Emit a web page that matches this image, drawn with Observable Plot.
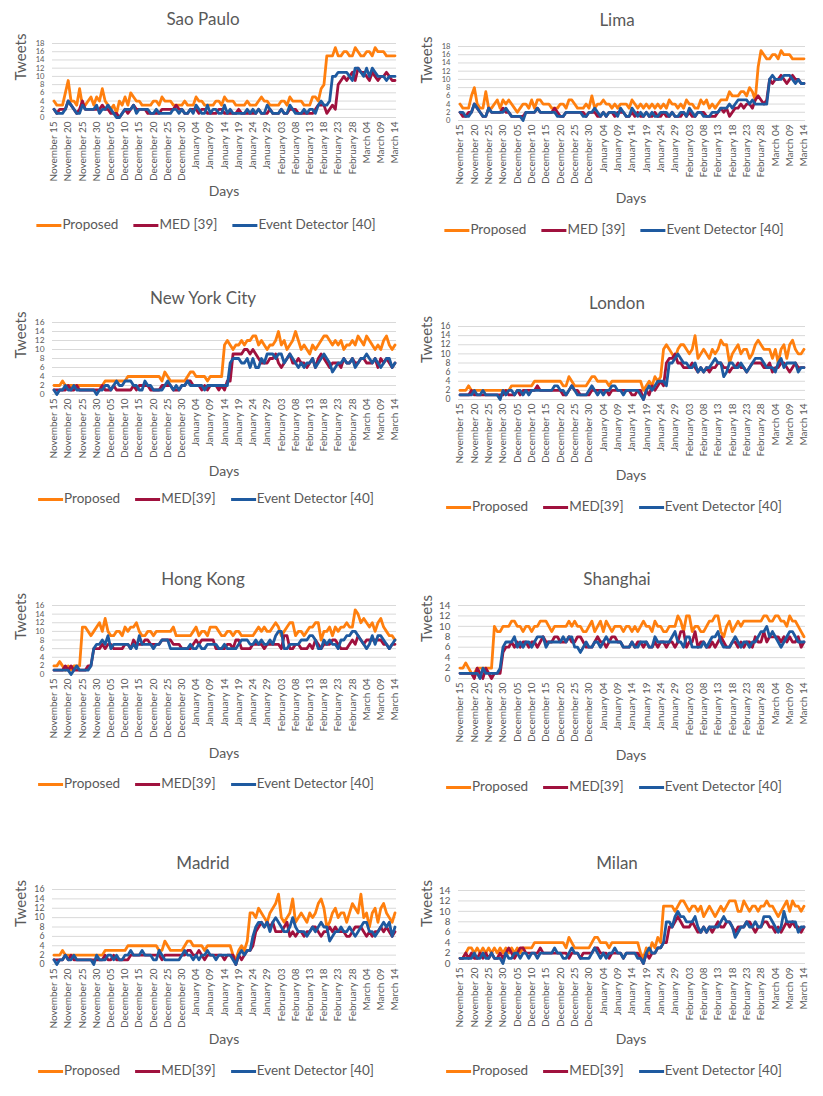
<!DOCTYPE html>
<html><head><meta charset="utf-8">
<script src="https://cdn.jsdelivr.net/npm/d3@7"></script>
<script src="https://cdn.jsdelivr.net/npm/@observablehq/plot@0.6"></script>
<style>
body{margin:0;background:#fff;font-family:Lato,"Open Sans",sans-serif;}
#root{position:relative;width:823px;height:1096px;overflow:hidden;}
.t{position:absolute;transform:translate(-50%,-50%);color:#595959;white-space:nowrap;}
.title{font-size:17px;}
.days{font-size:14px;}
.legend{position:absolute;transform:translate(-50%,-50%);display:flex;gap:15px;font-size:13.5px;color:#595959;white-space:nowrap;align-items:center;}
.sw{display:inline-block;width:25px;height:3px;vertical-align:middle;margin-right:1px;}
svg{position:absolute;}
</style></head>
<body><div id="root"></div>
<script>
const cities = ["Sao Paulo","Lima","New York City","London","Hong Kong","Shanghai","Madrid","Milan"];
const seriesNames = ["Proposed","MED [39]","Event Detector [40]"];
const medLabels = ["MED [39]","MED [39]","MED[39]","MED[39]","MED[39]","MED[39]","MED[39]","MED[39]"];
const yMax = [18,18,16,16,16,14,16,14];
const tickLabels = ["November 15","November 20","November 25","November 30","December 05","December 10","December 15","December 20","December 25","December 30","January 04","January 09","January 14","January 19","January 24","January 29","February 03","February 08","February 13","February 18","February 23","February 28","March 04","March 09","March 14"];

const saoPauloProposed = [4,3,3,3,6,9,4,4,3,7, 3,3,4,5,3,5,4,7,4,3, 2,3,1,4,3,5,3,6,5,4, 4,3,3,3,3,4,4,3,5,4, 4,4,3,3,3,3,4,3,3,3, 5,4,4,3,3,3,3,4,4,3, 5,4,4,4,3,3,3,3,4,3, 3,3,4,5,4,4,3,3,3,3, 4,4,3,5,4,4,4,4,3,3, 3,5,5,4,7,8,15,15,15,17, 15,15,16,16,15,15,17,16,15,15, 16,16,15,17,16,16,16,15,15,15,15];
const saoPauloMED = [2,1,2,2,2,4,3,2,1,2, 4,2,2,2,2,2,2,3,2,2, 1,1,1,0,1,2,1,2,3,2, 2,2,2,1,1,1,1,1,2,2, 2,2,2,3,2,2,1,1,2,2, 2,1,2,2,1,1,1,1,2,2, 1,1,1,1,1,2,1,1,1,1, 1,1,2,1,1,1,2,1,1,1, 2,1,1,2,2,2,1,1,1,1, 1,1,2,3,3,3,1,2,3,2, 8,9,10,9,10,11,9,12,11,11, 10,9,11,10,9,10,10,11,10,9,9];
const saoPauloEvent = [2,1,1,1,2,4,3,2,1,1, 3,2,2,2,2,3,1,2,2,3, 2,1,0,0,1,2,2,2,3,1, 2,2,2,2,1,1,2,1,1,1, 1,1,2,2,1,2,1,1,2,1, 3,2,1,1,3,1,2,2,1,1, 3,1,2,1,1,1,1,1,2,1, 2,1,2,1,1,3,2,1,1,1, 2,1,1,3,2,1,1,1,2,1, 2,2,1,3,4,3,3,4,10,10, 11,11,11,11,10,9,12,12,11,10, 12,10,12,11,10,10,10,9,10,10,10];

const limaProposed = [4,3,3,3,6,8,4,3,3,7, 3,3,4,5,3,5,4,5,4,3, 2,3,4,4,3,5,3,5,5,4, 4,4,3,3,3,4,4,3,5,5, 4,3,3,3,4,3,6,3,4,4, 5,4,4,3,4,3,4,4,4,3, 5,4,3,4,3,4,3,4,3,4, 3,4,3,5,4,4,3,4,3,5, 4,4,3,3,5,4,5,3,4,3, 4,5,5,5,7,6,6,6,7,7, 6,8,7,5,13,17,16,15,15,16, 16,15,17,16,16,16,15,15,15,15,15];
const limaMED = [2,1,1,2,2,4,3,2,1,1, 3,2,2,2,2,3,2,2,1,1, 1,1,1,2,2,2,2,3,2,2, 2,2,2,3,2,1,1,2,2,2, 2,2,2,2,1,2,2,2,1,1, 2,1,2,2,1,2,2,2,1,1, 2,1,2,1,1,2,1,1,2,1, 1,2,1,1,2,1,1,1,2,1, 2,1,1,2,2,2,1,1,1,1, 2,3,2,3,1,2,3,3,4,3, 4,4,3,5,6,5,4,5,10,9, 10,10,11,10,9,10,11,10,10,9,9];
const limaEvent = [2,2,1,1,2,4,3,2,1,1, 3,2,2,2,2,2,3,2,1,1, 1,1,0,2,2,2,2,3,2,2, 2,2,2,2,1,1,1,2,2,2, 2,2,2,1,1,2,2,3,2,1, 2,1,2,2,2,1,3,2,1,1, 3,2,1,2,1,2,1,2,1,1, 2,2,2,1,2,1,1,2,2,1, 3,2,1,2,2,1,1,1,2,2, 2,3,3,3,4,3,4,5,5,5, 5,4,5,4,4,4,4,4,10,11, 10,10,10,11,11,11,10,9,10,9,9];

const newYorkProposed = [2,2,2,3,2,2,2,2,2,2, 2,2,2,2,2,2,2,2,3,3, 3,3,3,3,3,3,4,4,4,4, 4,4,4,4,4,4,4,4,3,5, 4,3,3,3,3,3,3,4,5,5, 4,4,4,4,3,4,4,4,4,4, 11,12,11,10,11,11,12,11,12,12, 13,13,11,12,11,10,11,11,12,14, 11,12,10,11,12,14,12,10,11,10, 9,11,10,11,12,13,13,12,11,12, 11,12,10,11,11,12,11,13,12,11, 13,12,11,10,11,10,12,13,11,10,11];
const newYorkMED = [1,1,1,1,1,2,1,1,2,1, 1,1,1,1,1,1,1,2,1,1, 1,2,1,1,1,1,1,1,2,1, 2,2,2,2,1,1,1,1,2,2, 2,2,1,1,1,2,2,3,3,2, 2,2,1,2,1,2,2,2,1,2, 1,3,3,9,9,9,9,10,10,9, 10,9,8,7,7,7,8,8,9,7, 6,7,8,9,7,7,8,7,7,6, 7,8,6,8,9,8,7,6,7,7, 7,6,8,7,7,8,7,7,8,8, 7,7,7,8,6,8,7,8,7,6,7];
const newYorkEvent = [1,0,1,1,2,1,1,2,1,1, 1,1,1,1,1,0,1,1,2,2, 1,2,3,2,2,3,3,3,2,2, 1,1,3,2,2,1,1,1,1,2, 3,2,1,2,1,2,2,3,2,2, 2,2,2,1,2,2,2,2,2,2, 2,2,7,8,8,8,7,7,8,6, 8,6,6,8,7,9,9,9,8,9, 9,7,8,9,8,7,6,7,6,7, 7,8,6,7,8,9,8,7,5,6, 7,7,8,7,7,8,6,7,8,8, 9,8,7,8,7,6,7,8,8,6,7];

const londonProposed = [2,2,2,3,2,2,2,2,2,2, 2,2,2,2,2,2,2,2,3,3, 3,3,3,3,3,3,4,4,4,4, 4,4,4,4,4,4,3,3,5,4, 3,3,3,3,3,4,5,5,4,4, 4,4,3,4,4,4,4,4,4,4, 4,4,4,4,2,3,4,3,5,4, 5,11,12,11,10,9,11,12,12,11, 10,11,14,9,10,11,10,9,11,10, 11,13,12,12,8,10,11,12,10,11, 11,9,10,12,13,12,11,11,11,9, 11,8,11,12,9,12,13,11,10,10,11];
const londonMED = [1,1,1,1,2,1,1,1,1,1, 1,1,1,1,1,1,2,1,1,1, 2,1,2,2,2,2,2,3,2,2, 2,2,2,2,2,2,1,1,2,3, 2,2,1,1,1,1,2,2,2,2, 2,2,1,2,2,2,2,2,2,2, 1,1,2,2,0,2,1,3,2,3, 4,3,8,9,9,10,8,8,7,7, 7,8,7,6,7,6,7,6,7,7, 8,8,7,7,6,7,7,8,7,7, 6,7,8,8,8,8,7,7,8,6, 7,7,8,8,7,6,7,8,7,7,7];
const londonEvent = [1,1,1,1,1,2,1,1,2,1, 1,1,1,1,0,2,1,2,2,1, 2,2,1,2,1,2,2,2,2,2, 2,2,2,3,3,2,2,1,2,3, 2,1,1,1,1,2,3,2,1,2, 1,2,2,3,3,2,2,1,2,2, 2,2,2,1,0,2,3,2,3,4, 4,4,3,8,8,9,10,9,8,8, 7,7,8,6,7,6,7,7,8,9, 8,8,5,6,8,8,7,7,8,7, 6,7,8,9,9,9,8,7,7,7, 6,8,9,7,8,8,8,8,6,7,7];

const hongKongProposed = [2,2,3,2,1,2,1,2,2,2, 11,11,10,9,10,11,12,10,13,10, 9,9,10,10,9,11,10,11,11,12, 10,9,9,10,10,9,10,10,10,10, 10,10,11,9,9,9,9,9,9,10, 11,9,10,10,9,11,11,11,10,9, 9,10,10,9,10,10,9,9,9,9, 9,10,11,10,11,10,10,11,12,11, 9,10,11,12,12,9,10,10,9,10, 11,11,12,12,8,10,10,11,9,11, 10,11,11,12,11,11,15,14,12,13, 12,11,12,10,12,13,11,10,9,9,8];
const hongKongMED = [1,1,1,1,2,1,2,1,1,1, 1,1,2,2,6,6,6,7,6,7, 7,6,6,6,6,7,7,6,8,7, 7,7,8,8,7,7,7,7,8,8, 8,8,7,7,7,6,6,6,6,7, 8,7,8,8,8,8,8,6,6,6, 6,7,7,6,8,8,6,6,6,6, 7,7,7,7,6,7,7,7,7,7, 6,9,9,6,6,7,7,6,6,6, 7,6,8,7,6,7,7,7,8,8, 7,6,6,6,7,8,7,9,8,7, 8,8,8,8,8,8,7,7,6,7,7];
const hongKongEvent = [1,1,1,1,1,1,0,1,2,1, 1,1,1,2,6,7,7,8,7,9, 6,7,7,7,7,7,7,6,7,6, 9,7,7,7,7,6,7,7,8,8, 8,6,6,6,6,6,6,6,7,6, 6,7,6,6,7,7,7,7,6,6, 7,6,6,6,6,7,8,8,8,7, 7,8,7,8,7,7,8,7,9,10, 10,6,6,7,7,7,7,8,8,8, 9,9,8,6,6,8,7,8,7,7, 6,8,8,9,9,10,10,9,8,7, 6,7,9,7,9,9,8,7,6,7,8];

const shanghaiProposed = [2,2,3,2,1,1,2,2,2,2, 2,2,10,9,9,10,10,10,11,11, 10,10,9,10,10,9,10,10,11,11, 11,10,9,10,10,10,10,10,11,10, 11,10,10,9,9,10,11,9,10,11, 9,11,10,9,10,10,10,9,10,10, 9,10,9,10,11,10,10,9,11,10, 10,9,9,10,10,10,12,11,9,12, 12,9,10,10,9,9,10,11,11,12, 12,9,8,10,11,9,10,11,10,11, 11,11,11,11,11,11,12,12,11,11, 12,12,11,11,10,12,11,11,10,9,8];
const shanghaiMED = [1,1,1,1,1,0,2,1,0,2, 1,0,1,1,1,5,6,6,7,6, 7,6,7,7,6,7,7,6,7,8, 7,7,7,8,8,7,7,7,8,7, 7,8,8,7,6,6,6,7,8,7, 7,6,7,8,8,7,7,6,6,6, 7,6,7,7,6,7,6,6,7,6, 7,7,6,7,7,6,7,9,9,6, 7,7,9,6,7,7,6,6,7,6, 7,8,7,6,6,7,7,6,7,6, 7,7,6,8,7,7,9,7,8,8, 8,8,7,8,7,8,7,7,8,6,7];
const shanghaiEvent = [1,1,1,1,1,1,1,0,2,1, 1,1,1,1,2,6,7,7,7,8, 6,7,6,7,7,6,7,8,8,8, 6,7,7,7,7,7,8,7,8,8, 6,6,5,6,7,6,6,7,7,6, 7,8,7,7,7,7,7,6,6,6, 7,6,6,7,7,7,6,6,8,7, 7,7,7,7,8,9,7,7,6,8, 8,6,6,6,6,7,6,7,8,8, 9,7,6,6,6,7,8,7,6,7, 7,6,7,7,8,9,9,10,8,9, 8,7,6,7,8,9,9,8,7,7,7];

const madridProposed = [2,2,2,3,2,2,2,2,2,2, 2,2,2,2,2,2,2,2,3,3, 3,3,3,3,3,3,4,4,4,4, 4,4,4,4,4,4,4,3,3,5, 4,3,3,3,3,3,4,5,5,4, 4,4,4,3,4,4,4,4,4,4, 4,4,4,2,1,3,4,3,5,11, 11,10,12,11,10,9,11,12,13,15, 10,9,10,11,14,9,10,11,10,9, 11,10,11,13,14,12,8,9,11,12, 10,11,11,9,11,13,12,11,15,10, 11,8,11,12,9,12,13,11,10,9,11];
const madridMED = [1,1,1,1,2,1,2,1,1,1, 1,1,1,1,1,1,1,1,2,1, 1,2,1,1,1,1,1,2,2,2, 2,2,2,2,2,2,2,2,1,2, 2,2,2,2,2,2,2,3,3,2, 2,3,2,1,2,2,2,2,2,2, 1,2,2,2,0,2,1,2,3,3, 4,7,8,9,8,9,8,9,7,7, 7,8,9,6,7,6,7,7,6,7, 7,8,8,7,6,7,7,8,7,8, 7,7,7,6,6,7,8,8,8,7, 6,7,6,7,7,8,7,8,7,6,7];
const madridEvent = [1,0,1,1,2,1,1,2,1,1, 1,1,1,1,0,2,1,1,1,2, 2,1,2,1,1,2,2,3,2,2, 2,3,2,2,2,1,1,3,2,1, 1,1,1,1,1,2,3,2,2,1, 2,1,2,2,3,2,2,1,2,2, 2,2,2,1,0,2,3,2,3,3, 6,8,9,9,8,9,7,9,10,9, 8,7,7,8,10,8,7,7,7,6, 7,8,7,8,9,8,8,5,6,7, 7,8,7,7,8,7,6,7,8,9, 9,7,7,6,7,8,9,8,9,6,8];

const milanProposed = [1,1,2,3,3,2,3,2,3,2, 3,2,3,2,3,2,3,2,3,2, 3,2,3,3,3,3,4,4,4,4, 4,4,4,4,4,4,4,3,5,4, 3,3,3,3,3,3,4,5,5,4, 4,4,3,4,4,4,4,4,4,4, 4,4,4,2,1,3,2,4,3,5, 4,11,11,11,11,10,11,12,12,11, 10,11,11,10,11,9,10,11,10,9, 10,11,10,11,12,12,12,10,10,12, 11,10,11,11,10,11,11,12,11,11, 10,9,10,11,12,10,12,11,11,10,11];
const milanMED = [1,1,2,1,2,1,1,2,1,2, 1,2,1,1,2,1,2,3,2,1, 2,3,3,2,2,2,2,2,3,2, 2,2,2,2,2,2,2,2,1,2, 2,2,1,2,2,2,2,3,3,2, 2,2,1,2,2,2,2,1,2,2, 2,2,2,1,0,2,1,2,2,3, 3,4,4,7,7,8,9,8,7,7, 7,8,7,6,6,7,6,7,6,7, 8,7,7,8,8,7,6,7,7,7, 8,8,7,6,7,7,8,8,7,7, 6,7,6,7,8,7,8,7,7,6,7];
const milanEvent = [1,1,1,1,1,2,1,1,2,1, 1,2,1,1,1,0,2,1,1,2, 2,1,2,2,1,2,2,1,2,2, 2,2,2,3,2,2,1,1,2,3, 2,2,1,1,1,1,2,3,2,1, 2,1,2,2,3,2,2,1,2,2, 2,2,1,1,0,2,3,2,2,3, 3,4,8,8,7,9,10,9,9,8, 8,8,9,7,6,7,6,7,7,7, 7,8,9,8,8,7,5,6,7,7, 8,7,7,8,7,7,9,9,9,8, 7,6,7,10,8,8,8,8,6,7,7];

// ---- presentation ----
const colors = ["#FF7F0E", "#A0113E", "#1E5AA0"];
const cityData = [
  [saoPauloProposed, saoPauloMED, saoPauloEvent],
  [limaProposed, limaMED, limaEvent],
  [newYorkProposed, newYorkMED, newYorkEvent],
  [londonProposed, londonMED, londonEvent],
  [hongKongProposed, hongKongMED, hongKongEvent],
  [shanghaiProposed, shanghaiMED, shanghaiEvent],
  [madridProposed, madridMED, madridEvent],
  [milanProposed, milanMED, milanEvent]
];
const layout = [
  {col:0, titleY:18, top:43, bottom:117, daysY:190, legendY:224},
  {col:1, titleY:19, top:46, bottom:120, daysY:197, legendY:229},
  {col:0, titleY:297, top:322, bottom:394, daysY:470, legendY:498},
  {col:1, titleY:302, top:326, bottom:399, daysY:474, legendY:506},
  {col:0, titleY:578, top:605, bottom:674, daysY:752, legendY:783},
  {col:1, titleY:578, top:605, bottom:678, daysY:754, legendY:786},
  {col:0, titleY:862, top:889, bottom:964, daysY:1038, legendY:1070},
  {col:1, titleY:862, top:890, bottom:963, daysY:1038, legendY:1070}
];
const cols = [
  {svgLeft:0, ml:52, mr:4, titleX:203, legendX:206, daysX:224},
  {svgLeft:410, ml:48, mr:5, titleX:617, legendX:614, daysX:631}
];
const root = document.getElementById("root");
const tickDays = d3.range(0, 121, 5);
const mt = 8, mb = 72;

cities.forEach((city, ci) => {
  const L = layout[ci], C = cols[L.col];
  const yt = d3.range(0, yMax[ci] + 1, 2);
  const plotH = L.bottom - L.top;
  const step = plotH / (yt.length - 1);
  const yFont = Math.min(10, step - 0.6);
  const marks = [
    Plot.gridY(yt, {stroke: "#d9d9d9", strokeOpacity: 1, strokeWidth: 1}),
    Plot.axisY(yt, {tickSize: 0, tickPadding: 8, label: null, fontSize: yFont}),
    Plot.axisX(tickDays, {tickSize: 0, tickPadding: 4, tickRotate: -90, label: null, fontSize: 10, tickFormat: d => tickLabels[d / 5]}),
    Plot.text(["Tweets"], {frameAnchor: "left", rotate: -90, dx: -31, fontSize: 15, fill: "#595959"})
  ];
  cityData[ci].forEach((arr, si) => {
    marks.push(Plot.line(arr, {x: (d, i) => i, y: d => d, stroke: colors[si], strokeWidth: 2.8, strokeLinejoin: "round"}));
  });
  const svg = Plot.plot({
    width: 400, height: plotH + mt + mb,
    marginLeft: C.ml, marginRight: C.mr, marginTop: mt, marginBottom: mb,
    x: {domain: [0, 120], inset: 1.5},
    y: {domain: [0, yMax[ci]]},
    style: {fontFamily: "Lato, 'Open Sans', sans-serif", color: "#595959", background: "transparent", overflow: "visible"},
    marks
  });
  svg.style.left = C.svgLeft + "px";
  svg.style.top = (L.top - mt) + "px";
  root.appendChild(svg);

  const t = document.createElement("div");
  t.className = "t title"; t.textContent = city;
  t.style.left = C.titleX + "px"; t.style.top = L.titleY + "px";
  root.appendChild(t);

  const dl = document.createElement("div");
  dl.className = "t days"; dl.textContent = "Days";
  dl.style.left = C.daysX + "px"; dl.style.top = L.daysY + "px";
  root.appendChild(dl);

  const lg = document.createElement("div");
  lg.className = "legend";
  lg.style.left = C.legendX + "px"; lg.style.top = L.legendY + "px";
  const names = [seriesNames[0], medLabels[ci], seriesNames[2]];
  names.forEach((n, si) => {
    const item = document.createElement("span");
    const sw = document.createElement("span");
    sw.className = "sw"; sw.style.background = colors[si];
    item.appendChild(sw);
    item.appendChild(document.createTextNode(n));
    lg.appendChild(item);
  });
  root.appendChild(lg);

  cityData[ci].forEach((arr, si) => {
    if (arr.length !== 121) {
      const e = document.createElement("div");
      e.style.cssText = "position:absolute;left:10px;color:red;font-size:12px;top:" + (L.top + si * 12) + "px";
      e.textContent = "LEN " + city + " " + si + " = " + arr.length;
      root.appendChild(e);
    }
  });
});
</script>
</body></html>
